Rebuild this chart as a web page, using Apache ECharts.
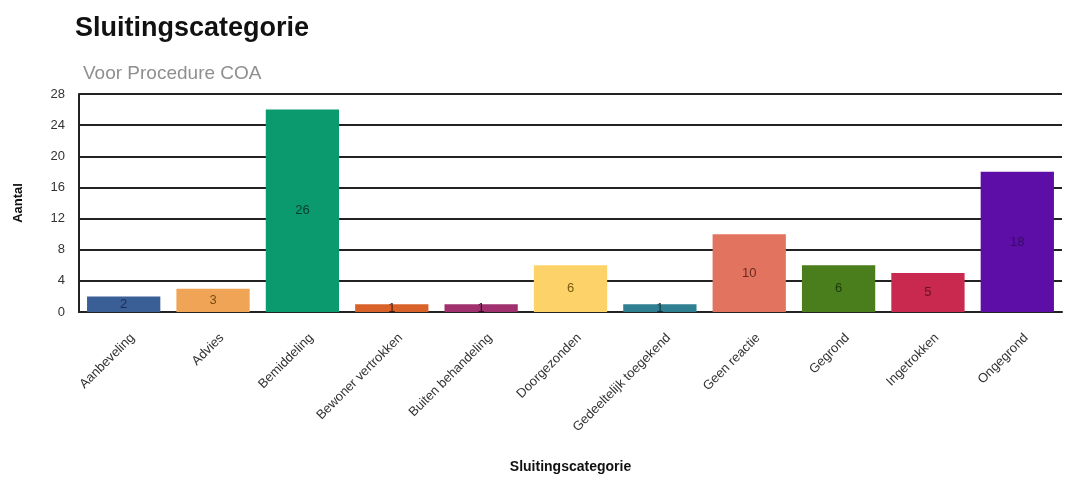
<!DOCTYPE html>
<html>
<head>
<meta charset="utf-8">
<script src="https://cdn.jsdelivr.net/npm/echarts@6/dist/echarts.min.js"></script>
<style>
html,body{margin:0;padding:0;background:#fff;}
#chart{width:1070px;height:482px;}
</style>
</head>
<body>
<div id="chart"></div>
<script>
const categories = ["Aanbeveling","Advies","Bemiddeling","Bewoner vertrokken","Buiten behandeling","Doorgezonden","Gedeeltelijk toegekend","Geen reactie","Gegrond","Ingetrokken","Ongegrond"];
const values = [2,3,26,1,1,6,1,10,6,5,18];
const barColors = ["#3a5f96","#f0a556","#0a9a6e","#d9622b","#a0306e","#fdd268","#2f7f92","#e2735f","#4a7d1b","#c9294f","#5c0ea6"];
const labelColors = ["#1a2d5a","#7a4a10","#0b3d2b","#4a1a08","#3a0a22","#7a5a10","#10323a","#6a2a20","#1a3a0a","#6a1020","#3a0a6a"];
const yTicks = [0,4,8,12,16,20,24,28];

const chart = echarts.init(document.getElementById('chart'));
chart.setOption({
  animation:false,
  backgroundColor:'#fff',
  title:[
    {text:'Sluitingscategorie',left:75,top:15,padding:0,textStyle:{fontFamily:'Liberation Sans',fontSize:27,fontWeight:'bold',color:'#111'}},
    {text:'Voor Procedure COA',left:83,top:64,padding:0,textStyle:{fontFamily:'Liberation Sans',fontSize:19,fontWeight:'normal',color:'#8f8f8f'}}
  ],
  grid:{left:79,right:8,top:94,bottom:170},
  xAxis:{
    type:'category',
    data:categories,
    name:'Sluitingscategorie',
    nameLocation:'middle',
    nameGap:148,
    nameTextStyle:{fontFamily:'Liberation Sans',fontSize:14,fontWeight:'bold',color:'#111'},
    axisLine:{lineStyle:{color:'#222',width:2}},
    axisTick:{show:false},
    axisLabel:{rotate:45,interval:0,margin:15,verticalAlign:'top',padding:[6,0,0,0],fontFamily:'Liberation Sans',fontSize:13,color:'#333'}
  },
  yAxis:{
    type:'value',
    min:0,max:28,interval:4,
    name:'Aantal',
    nameLocation:'middle',
    nameGap:54,
    nameRotate:90,
    nameTextStyle:{fontFamily:'Liberation Sans',fontSize:13,fontWeight:'bold',color:'#111'},
    axisLine:{show:true,lineStyle:{color:'#222',width:2}},
    axisTick:{show:false},
    axisLabel:{margin:14,fontFamily:'Liberation Sans',fontSize:13,color:'#333',
      formatter:function(v){return yTicks.indexOf(v)>=0?String(v):'';}},
    splitLine:{lineStyle:{color:'#222',width:2}}
  },
  series:[{
    type:'bar',
    barCategoryGap:'18%',
    data:values.map(function(v,i){
      return {value:v,itemStyle:{color:barColors[i]},label:{color:labelColors[i]}};
    }),
    label:{show:true,position:'inside',fontFamily:'Liberation Sans',fontSize:13}
  }]
});
</script>
</body>
</html>
